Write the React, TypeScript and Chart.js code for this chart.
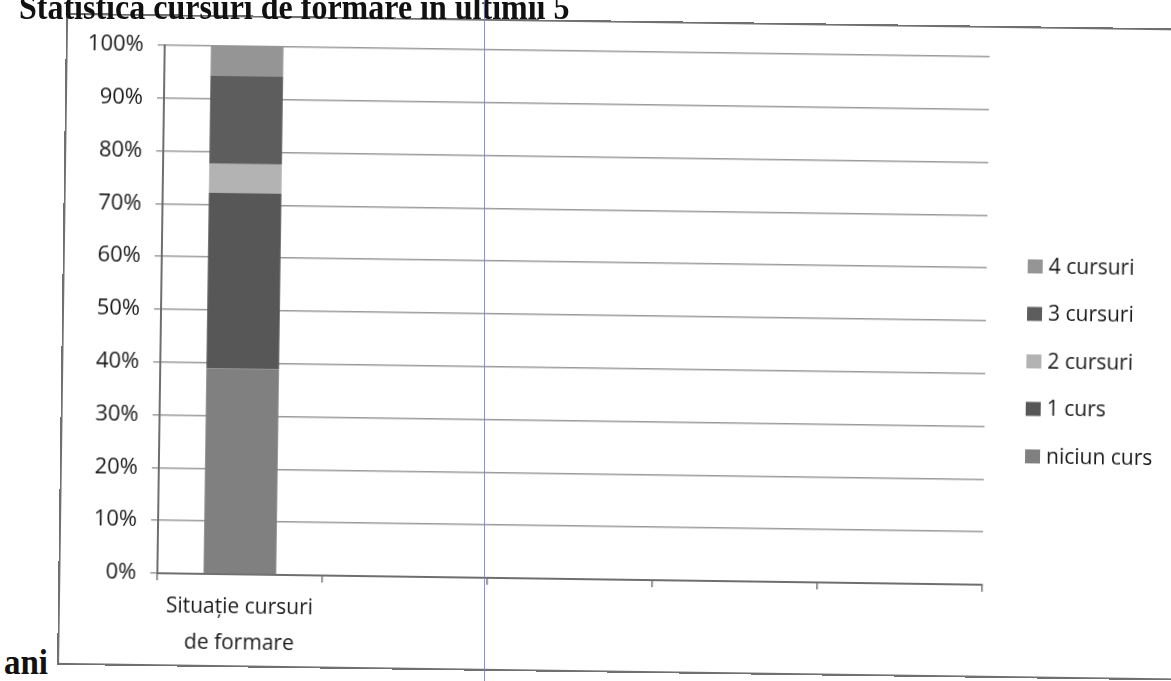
import React, { useEffect, useRef } from "react";
import { Chart, registerables } from "chart.js";

Chart.register(...registerables);

// ---- data ----
const categories: (string | string[])[] = [["Situație cursuri", "de formare"], "", "", "", ""];
const seriesLabels = ["niciun curs", "1 curs", "2 cursuri", "3 cursuri", "4 cursuri"];
const niciunCurs = [38.9, null, null, null, null];
const unCurs = [33.3, null, null, null, null];
const douaCursuri = [5.5, null, null, null, null];
const treiCursuri = [16.7, null, null, null, null];
const patruCursuri = [5.6, null, null, null, null];
const seriesValues = [niciunCurs, unCurs, douaCursuri, treiCursuri, patruCursuri];
const seriesColors = ["#808080", "#575757", "#b3b3b3", "#5d5d5d", "#959595"];
const yTickValues = [0, 10, 20, 30, 40, 50, 60, 70, 80, 90, 100];
const titleText = "Statistica cursuri de formare în ultimii 5";
const titleTail = "ani";

const FONT = "'Open Sans', 'Noto Sans', sans-serif";

const sideLegend = {
  id: "sideLegend",
  afterDraw(chart: any, _args: any, opts: any) {
    const { ctx, chartArea } = chart;
    const ds = chart.data.datasets;
    const n = ds.length;
    const x0 = chartArea.right + opts.offsetX;
    ctx.save();
    ctx.font = `${opts.fontSize}px ${FONT}`;
    ctx.textBaseline = "middle";
    ctx.textAlign = "left";
    for (let i = 0; i < n; i++) {
      const d = ds[n - 1 - i];
      const y = opts.centerY + (i - (n - 1) / 2) * opts.spacing;
      ctx.fillStyle = d.backgroundColor;
      ctx.fillRect(x0, y - opts.boxH / 2, opts.boxW, opts.boxH);
      ctx.fillStyle = "#1a1a1a";
      ctx.fillText(d.label, x0 + opts.boxW + opts.gap, y + 1);
    }
    ctx.restore();
  },
};

export default function App() {
  const ref = useRef<HTMLCanvasElement>(null);

  useEffect(() => {
    document.body.style.margin = "0";
    const chart = new Chart(ref.current as HTMLCanvasElement, {
      type: "bar",
      data: {
        labels: categories,
        datasets: seriesLabels.map((label, i) => ({
          label,
          data: seriesValues[i],
          backgroundColor: seriesColors[i],
          borderWidth: 0,
          categoryPercentage: 0.55,
          barPercentage: 0.8,
        })),
      },
      options: {
        responsive: false,
        animation: false,
        layout: { padding: { top: 31, right: 206, bottom: 0, left: 0 } },
        plugins: {
          legend: { display: false },
          tooltip: { enabled: false },
          // @ts-ignore
          sideLegend: {
            offsetX: 41,
            centerY: 335,
            spacing: 47.5,
            boxW: 15,
            boxH: 14,
            gap: 6,
            fontSize: 21,
          },
        },
        scales: {
          x: {
            stacked: true,
            grid: {
              offset: true,
              drawOnChartArea: false,
              drawTicks: true,
              tickLength: 7,
              color: "#777",
              lineWidth: 1.5,
            },
            border: { color: "#6e6e6e", width: 2 },
            ticks: {
              font: { family: FONT, size: 21, lineHeight: 1.7 },
              color: "#1a1a1a",
              padding: 8,
              maxRotation: 0,
              autoSkip: false,
            },
            afterFit: (s: any) => {
              s.height = 93;
            },
          },
          y: {
            stacked: true,
            min: 0,
            max: 100,
            afterBuildTicks: (s: any) => {
              s.ticks = yTickValues.map((v) => ({ value: v }));
            },
            ticks: {
              callback: (v: any) => `${v}%`,
              font: { family: FONT, size: 22 },
              color: "#1a1a1a",
              padding: 14,
            },
            grid: { color: "#9a9a9a", lineWidth: 1.5, tickLength: 7 },
            border: { color: "#6e6e6e", width: 2 },
            afterFit: (s: any) => {
              s.width = 99;
            },
          },
        },
      },
      plugins: [sideLegend],
    } as any);
    return () => chart.destroy();
  }, []);

  const serif = "'Liberation Serif', 'DejaVu Serif', serif";

  return (
    <div
      style={{
        position: "fixed",
        left: 0,
        top: 0,
        width: 1171,
        height: 681,
        overflow: "hidden",
        background: "#fff",
      }}
    >
      <div
        style={{
          position: "absolute",
          left: 62,
          top: 20,
          width: 1130,
          height: 652,
          transform: "rotate(0.8deg)",
          transformOrigin: "511px 295px",
        }}
      >
        <canvas ref={ref} width={1130} height={652} style={{ display: "block" }} />
        <div
          style={{
            position: "absolute",
            left: 0,
            top: 0,
            width: 1130,
            height: 652,
            border: "2px solid #707070",
            borderRight: "none",
            boxSizing: "border-box",
            pointerEvents: "none",
          }}
        />
      </div>
      <div
        style={{
          position: "absolute",
          left: 19,
          top: -8,
          fontFamily: serif,
          fontWeight: "bold",
          fontSize: 32,
          lineHeight: "32px",
          whiteSpace: "nowrap",
          color: "#111",
          transform: "scaleY(1.15)",
          transformOrigin: "0 27px",
        }}
      >
        {titleText}
      </div>
      <div
        style={{
          position: "absolute",
          left: 4,
          top: 647,
          fontFamily: serif,
          fontWeight: "bold",
          fontSize: 33,
          lineHeight: "33px",
          whiteSpace: "nowrap",
          color: "#111",
          transform: "scaleY(1.1)",
          transformOrigin: "0 27px",
        }}
      >
        {titleTail}
      </div>
      <div
        style={{
          position: "absolute",
          left: 484,
          top: 0,
          width: 1,
          height: 681,
          background: "rgba(110,130,210,0.85)",
        }}
      />
    </div>
  );
}
